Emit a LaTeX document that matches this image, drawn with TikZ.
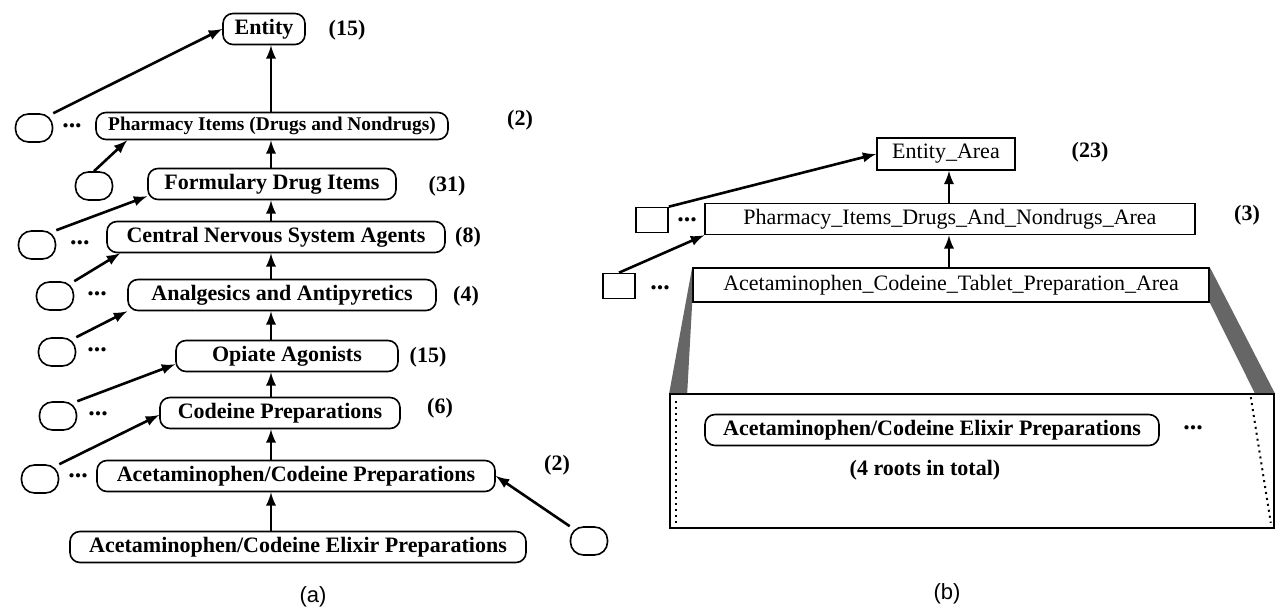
\documentclass[tikz,border=0pt]{standalone}
\usepackage{fontspec}
\setmainfont{Liberation Serif}
\newfontfamily\capfont{Liberation Sans}
\usetikzlibrary{arrows.meta, positioning}

\begin{document}
\begin{tikzpicture}[x=0.5pt, y=-0.5pt, >=latex, font=\fontsize{11}{13}\selectfont]
	\tikzstyle{concept} = [draw=black, line width=0.8pt, rectangle, rounded corners=5pt, minimum height=15.5pt, inner sep=1pt, font=\fontsize{11}{13}\selectfont\bfseries]
	\tikzstyle{leaf} = [draw=black, line width=0.8pt, rectangle, rounded corners=6.5pt, minimum width=18.5pt, minimum height=14pt, inner sep=0pt]
	\tikzstyle{area} = [draw=black, line width=0.8pt, rectangle, minimum height=16pt, inner sep=1pt]
	\tikzstyle{box} = [draw=black, line width=0.8pt, rectangle, minimum width=16pt, minimum height=12.5pt, inner sep=0pt]
	\tikzstyle{invis} = [draw=none, inner sep=0pt, font=\fontsize{11}{13}\selectfont\bfseries]
	\tikzstyle{more} = [draw=none, inner sep=0pt, font=\fontsize{13}{13}\selectfont\bfseries]
	\tikzstyle{link} = [line width=1.3pt]

	\useasboundingbox (0, 0) rectangle (1282, 613);

	% (a) concept hierarchy
	\node[concept, minimum width=41pt]	at (264, 29)	(entity)	{Entity};
	\node[concept, minimum width=176pt, minimum height=13.5pt, font=\fontsize{9.7}{11}\selectfont\bfseries]
										at (272, 126)	(pharm)		{Pharmacy Items (Drugs and Nondrugs)};
	\node[concept, minimum width=124pt]	at (272, 184)	(form)		{Formulary Drug Items};
	\node[concept, minimum width=169pt]	at (276, 237)	(cns)		{Central Nervous System Agents};
	\node[concept, minimum width=154pt]	at (282, 295)	(anal)		{Analgesics and Antipyretics};
	\node[concept, minimum width=111pt]	at (287, 356)	(opiate)	{Opiate Agonists};
	\node[concept, minimum width=120pt]	at (280, 413)	(codeine)	{Codeine Preparations};
	\node[concept, minimum width=199pt]	at (296, 476)	(acprep)	{Acetaminophen/Codeine Preparations};
	\node[concept, minimum width=228pt]	at (298, 547)	(elixir)	{Acetaminophen/Codeine Elixir Preparations};

	\node[leaf]		at (34, 128)	(s1)	{};
	\node[leaf]		at (94, 186)	(s2)	{};
	\node[leaf]		at (37, 245)	(s3)	{};
	\node[leaf]		at (55, 296)	(s4)	{};
	\node[leaf]		at (57, 352)	(s5)	{};
	\node[leaf]		at (58, 416)	(s6)	{};
	\node[leaf]		at (40, 479)	(s7)	{};
	\node[leaf]		at (589, 541)	(s8)	{};

	\node[more]		at (72, 126)	(d1)	{...};
	\node[more]		at (80, 243)	(d3)	{...};
	\node[more]		at (97, 294)	(d4)	{...};
	\node[more]		at (97, 350)	(d5)	{...};
	\node[more]		at (98, 414)	(d6)	{...};
	\node[more]		at (78, 476)	(d7)	{...};

	\node[invis]	at (347, 30)	(n1)	{(15)};
	\node[invis]	at (520, 120)	(n2)	{(2)};
	\node[invis]	at (447, 186)	(n3)	{(31)};
	\node[invis]	at (468, 237)	(n4)	{(8)};
	\node[invis]	at (466, 296)	(n5)	{(4)};
	\node[invis]	at (428, 357)	(n6)	{(15)};
	\node[invis]	at (440, 408)	(n7)	{(6)};
	\node[invis]	at (557, 465)	(n8)	{(2)};
	\node[invis, font=\capfont\fontsize{11}{13}\selectfont]	at (313, 597)	(capa)	{(a)};

	\coordinate (spine) at (271, 0);

	\path[->, link]
	(pharm.north -| spine)		edge	(entity.south -| spine)
	(form.north -| spine)		edge	(pharm.south -| spine)
	(cns.north -| spine)		edge	(form.south -| spine)
	(anal.north -| spine)		edge	(cns.south -| spine)
	(opiate.north -| spine)		edge	(anal.south -| spine)
	(codeine.north -| spine)	edge	(opiate.south -| spine)
	(acprep.north -| spine)		edge	(codeine.south -| spine)
	(elixir.north -| spine)		edge	(acprep.south -| spine)
	(s1.north east)				edge	(entity.west)
	(s2.north)					edge	([xshift=16pt]pharm.south west)
	(s3.north east)				edge	([yshift=2pt]form.south west)
	(s4.north east)				edge	([xshift=7pt]cns.south west)
	(s5.north east)				edge	(anal.south west)
	(s6.north east)				edge	([yshift=4pt]opiate.south west)
	(s7.north east)				edge	([yshift=-1pt]codeine.west)
	(s8.north west)				edge	(acprep.east);

	% (b) area hierarchy
	\node[area, minimum width=69pt]		at (946, 154)	(earea)	{Entity\_Area};
	\node[area, minimum width=245pt, minimum height=15.5pt]
										at (950, 219)	(parea)	{Pharmacy\_Items\_Drugs\_And\_Nondrugs\_Area};
	\node[area, minimum width=258pt, minimum height=17pt]
										at (951, 285)	(tarea)	{Acetaminophen\_Codeine\_Tablet\_Preparation\_Area};
	\node[area, minimum width=302pt, minimum height=67pt]
										at (972, 461)	(pool)	{};

	\node[box]		at (652, 220)	(q1)	{};
	\node[box]		at (619, 286)	(q2)	{};
	\node[more]		at (687, 220)	(e1)	{...};
	\node[more]		at (660, 288)	(e2)	{...};

	\node[invis]	at (1090, 152)	(m1)	{(23)};
	\node[invis]	at (1247, 215)	(m2)	{(3)};

	\node[concept, minimum width=227pt]	at (932, 430)	(root)	{Acetaminophen/Codeine Elixir Preparations};
	\node[more]		at (1193, 428)	(e3)	{...};
	\node[invis]	at (925, 470)	(total)	{(4 roots in total)};
	\node[invis, font=\capfont\fontsize{11}{13}\selectfont]	at (947, 594)	(capb)	{(b)};

	\fill[black!60] (tarea.north west) -- (pool.north west) -- ([xshift=9pt]pool.north west) -- (tarea.south west) -- cycle;
	\fill[black!60] (tarea.north east) -- (pool.north east) -- ([xshift=-10pt]pool.north east) -- (tarea.south east) -- cycle;
	\draw[dotted, line width=1pt] ([xshift=3.5pt, yshift=-4pt]pool.north west) -- ([xshift=3.5pt, yshift=3pt]pool.south west);
	\draw[dotted, line width=1pt] ([xshift=-12pt, yshift=-2pt]pool.north east) -- ([xshift=-2pt, yshift=3pt]pool.south east);

	\coordinate (axis) at (949, 0);

	\path[->, link]
	(parea.north -| axis)	edge	(earea.south -| axis)
	(tarea.north -| axis)	edge	(parea.south -| axis)
	(q1.north east)			edge	(earea.west)
	(q2.north)				edge	(parea.south west);
\end{tikzpicture}
\end{document}
